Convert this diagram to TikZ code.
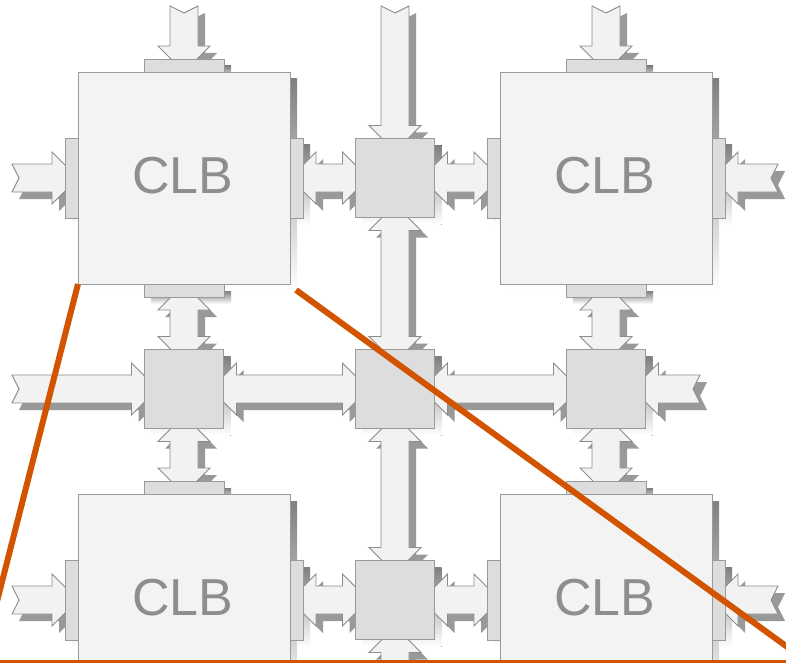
\documentclass[tikz,border=0pt]{standalone}
\usepackage{fontspec}
\setmainfont{Liberation Sans}
\usetikzlibrary{calc}
\pgfdeclarelayer{shadows}
\pgfdeclarelayer{arrows}
\pgfsetlayers{shadows,arrows,main}

\definecolor{clbfill}{HTML}{F3F3F3}
\definecolor{arrowfill}{HTML}{F2F2F2}
\definecolor{boxfill}{HTML}{DDDDDD}
\definecolor{edge}{HTML}{9A9A9A}
\definecolor{arrowedge}{HTML}{8C8C8C}
\definecolor{shade}{HTML}{999999}
\definecolor{labelgray}{HTML}{8E8E8E}
\definecolor{callout}{RGB}{211,84,0}

% Block arrows: head length 26pt, head half-width 26pt, shaft half-width 14pt,
% swallow-tail notch 7pt. The last argument offsets the outline (for shadows).
\newcommand\hdbl[3]{let \p1=($(#1)+(#3,-#3)$), \p2=($(#2)+(#3,-#3)$) in
 (\x1,\y1) -- (\x1+26pt,\y1+26pt) -- (\x1+26pt,\y1+14pt) -- (\x2-26pt,\y1+14pt)
 -- (\x2-26pt,\y1+26pt) -- (\x2,\y1) -- (\x2-26pt,\y1-26pt) -- (\x2-26pt,\y1-14pt)
 -- (\x1+26pt,\y1-14pt) -- (\x1+26pt,\y1-26pt) -- cycle}
\newcommand\vdbl[3]{let \p1=($(#1)+(#3,-#3)$), \p2=($(#2)+(#3,-#3)$) in
 (\x1,\y1) -- (\x1+26pt,\y1-26pt) -- (\x1+14pt,\y1-26pt) -- (\x1+14pt,\y2+26pt)
 -- (\x1+26pt,\y2+26pt) -- (\x1,\y2) -- (\x1-26pt,\y2+26pt) -- (\x1-14pt,\y2+26pt)
 -- (\x1-14pt,\y1-26pt) -- (\x1-26pt,\y1-26pt) -- cycle}
\newcommand\rarr[3]{let \p1=($(#1)+(#3,-#3)$), \p2=($(#2)+(#3,-#3)$) in
 (\x2,\y2) -- (\x2-26pt,\y2-26pt) -- (\x2-26pt,\y2-14pt) -- (\x1,\y2-14pt)
 -- (\x1+7pt,\y2) -- (\x1,\y2+14pt) -- (\x2-26pt,\y2+14pt) -- (\x2-26pt,\y2+26pt) -- cycle}
\newcommand\larr[3]{let \p1=($(#1)+(#3,-#3)$), \p2=($(#2)+(#3,-#3)$) in
 (\x1,\y1) -- (\x1+26pt,\y1+26pt) -- (\x1+26pt,\y1+14pt) -- (\x2,\y1+14pt)
 -- (\x2-7pt,\y1) -- (\x2,\y1-14pt) -- (\x1+26pt,\y1-14pt) -- (\x1+26pt,\y1-26pt) -- cycle}
\newcommand\darr[3]{let \p1=($(#1)+(#3,-#3)$), \p2=($(#2)+(#3,-#3)$) in
 (\x2,\y2) -- (\x2-26pt,\y2+26pt) -- (\x2-14pt,\y2+26pt) -- (\x2-14pt,\y1)
 -- (\x2,\y1-7pt) -- (\x2+14pt,\y1) -- (\x2+14pt,\y2+26pt) -- (\x2+26pt,\y2+26pt) -- cycle}
\newcommand\uarr[3]{let \p1=($(#1)+(#3,-#3)$), \p2=($(#2)+(#3,-#3)$) in
 (\x1,\y1) -- (\x1+26pt,\y1-26pt) -- (\x1+14pt,\y1-26pt) -- (\x1+14pt,\y2)
 -- (\x1,\y2+7pt) -- (\x1-14pt,\y2) -- (\x1-14pt,\y1-26pt) -- (\x1-26pt,\y1-26pt) -- cycle}

% All routing arrows of the fabric
\newcommand\arrowset[2]{%
 % row of the upper logic blocks
 \path[#1] \rarr{tailA}{clbA.west}{#2};
 \path[#1] \hdbl{clbA.east}{swTw}{#2};
 \path[#1] \hdbl{swTe}{clbB.west}{#2};
 \path[#1] \larr{clbB.east}{tailB}{#2};
 % row of the lower logic blocks
 \path[#1] \rarr{tailC}{clbC.west}{#2};
 \path[#1] \hdbl{clbC.east}{swBw}{#2};
 \path[#1] \hdbl{swBe}{clbD.west}{#2};
 \path[#1] \larr{clbD.east}{tailD}{#2};
 % middle routing row
 \path[#1] \rarr{tailE}{swLw}{#2};
 \path[#1] \hdbl{swLe}{swCw}{#2};
 \path[#1] \hdbl{swCe}{swRw}{#2};
 \path[#1] \larr{swRe}{tailF}{#2};
 % left column
 \path[#1] \darr{tailG}{clbA.north}{#2};
 \path[#1] \vdbl{clbA.south}{swLn}{#2};
 \path[#1] \vdbl{swLs}{clbC.north}{#2};
 % right column
 \path[#1] \darr{tailH}{clbB.north}{#2};
 \path[#1] \vdbl{clbB.south}{swRn}{#2};
 \path[#1] \vdbl{swRs}{clbD.north}{#2};
 % middle column
 \path[#1] \darr{tailI}{swTn}{#2};
 \path[#1] \vdbl{swTs}{swCn}{#2};
 \path[#1] \vdbl{swCs}{swBn}{#2};
 \path[#1] \uarr{swBs}{tailJ}{#2};
}

\newcommand\boxshadow[1]{\fill[shade] ($(#1.south west)+(7pt,-7pt)$) rectangle ($(#1.north east)+(7pt,-7pt)$);}

\tikzset{
 block/.style={draw=edge, line width=0.9pt, inner sep=0pt, outer sep=0pt},
 clb/.style={block, fill=clbfill, minimum size=212pt},
 pinh/.style={block, fill=boxfill, minimum width=80pt, minimum height=13pt},
 pinv/.style={block, fill=boxfill, minimum width=13pt, minimum height=80pt},
 switchbox/.style={block, fill=boxfill, minimum size=79pt},
 arrowbody/.style={fill=arrowfill, draw=arrowedge, line width=0.9pt, line join=miter},
 lbl/.style={text=labelgray, inner sep=0pt, font=\fontsize{52}{62}\selectfont},
 zoomline/.style={draw=callout, line width=6pt},
}

\begin{document}
\begin{tikzpicture}[x=1pt, y=-1pt]
\useasboundingbox (0,0) rectangle (786,663);
\clip (0,0) rectangle (786,663);

% logic blocks
\node[clb] (clbA) at (184,178) {};
\node[clb] (clbB) at (606,178) {};
\node[clb] (clbC) at (184,600) {};
\node[clb] (clbD) at (606,600) {};

% pins
\node[pinh] (pAt) at (184,65.5) {};
\node[pinh] (pAb) at (184,290.5) {};
\node[pinv] (pAl) at (71.5,178) {};
\node[pinv] (pAr) at (296.5,178) {};
\node[pinh] (pBt) at (606,65.5) {};
\node[pinh] (pBb) at (606,290.5) {};
\node[pinv] (pBl) at (493.5,178) {};
\node[pinv] (pBr) at (718.5,178) {};
\node[pinh] (pCt) at (184,487.5) {};
\node[pinv] (pCl) at (71.5,600) {};
\node[pinv] (pCr) at (296.5,600) {};
\node[pinh] (pDt) at (606,487.5) {};
\node[pinv] (pDl) at (493.5,600) {};
\node[pinv] (pDr) at (718.5,600) {};

% switch boxes
\node[switchbox] (swT) at (395,178) {};
\node[switchbox] (swL) at (184,389) {};
\node[switchbox] (swC) at (395,389) {};
\node[switchbox] (swR) at (606,389) {};
\node[switchbox] (swB) at (395,600) {};

% labels
\node[lbl] (lA) at (183,176) {CLB};
\node[lbl] (lB) at (605,176) {CLB};
\node[lbl] (lC) at (183,598) {CLB};
\node[lbl] (lD) at (605,598) {CLB};

% arrow tips hidden under the switch boxes
\foreach \s in {swT,swL,swC,swR,swB}{
 \coordinate (\s w) at ([xshift=13pt]\s.west);
 \coordinate (\s e) at ([xshift=-13pt]\s.east);
 \coordinate (\s n) at ([yshift=-13pt]\s.north);
 \coordinate (\s s) at ([yshift=13pt]\s.south);
}
% free arrow tails
\coordinate (tailA) at (12,178);
\coordinate (tailB) at (778,178);
\coordinate (tailC) at (12,600);
\coordinate (tailD) at (778,600);
\coordinate (tailE) at (12,389);
\coordinate (tailF) at (700,389);
\coordinate (tailG) at (184,6);
\coordinate (tailH) at (606,6);
\coordinate (tailI) at (395,6);
\coordinate (tailJ) at (395,720);

\begin{pgfonlayer}{shadows}
 \clip (0,0) rectangle (786,663);
 \arrowset{fill=shade}{7pt}
 \foreach \b in {clbA,clbB,clbC,clbD,pAt,pAb,pAl,pAr,pBt,pBb,pBl,pBr,pCt,pCl,pCr,pDt,pDl,pDr,swT,swL,swC,swR,swB}{\boxshadow{\b}}
\end{pgfonlayer}

\begin{pgfonlayer}{arrows}
 \clip (0,0) rectangle (786,663);
 \arrowset{arrowbody}{0pt}
\end{pgfonlayer}

% zoom call-out lines
\coordinate (zA) at (-20,668);
\coordinate (zB) at (800,656.2);
\coordinate (zL) at (0,661.5);
\coordinate (zR) at (786,661.5);
\draw[zoomline] (clbA.south west) -- (zA);
\draw[zoomline] ([shift={(6pt,-6pt)}]clbA.south east) -- (zB);
\draw[draw=callout, line width=3pt] (zL) -- (zR);
\end{tikzpicture}
\end{document}
